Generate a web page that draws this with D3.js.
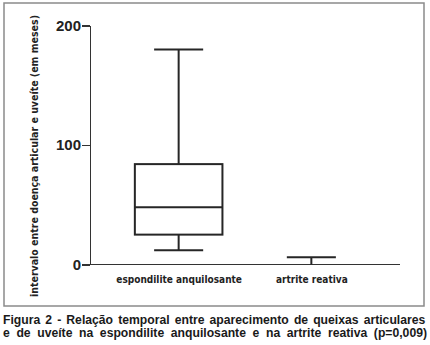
<!DOCTYPE html>
<meta charset="utf-8">
<style type="text/css">
	body {
		margin: 0;
		background: #fff;
	}

	.frame {
		fill: none;
		stroke: #8a8a8a;
		stroke-width: 1.5px;
	}

	.axis path,
	.axis line {
		stroke: #333;
		stroke-width: 1.5px;
		shape-rendering: crispEdges;
	}

	.y.axis text {
		font-family: "Liberation Sans", Arial, sans-serif;
		font-size: 15px;
		font-weight: bold;
		fill: #222;
	}

	.x.axis text {
		font-family: "Liberation Sans Narrow", "DejaVu Sans Condensed", sans-serif;
		font-size: 10px;
		font-weight: bold;
		fill: #222;
	}

	.box rect,
	.box line {
		fill: none;
		stroke: #262626;
		stroke-width: 2px;
	}

	.y-title {
		font-family: "Liberation Sans Narrow", "DejaVu Sans Condensed", sans-serif;
		font-size: 10.5px;
		font-weight: bold;
		fill: #222;
	}

	.caption {
		font-family: "Liberation Sans", Arial, sans-serif;
		font-size: 12.2px;
		font-weight: bold;
		fill: #1a1a1a;
	}
</style>

<body>
<div class="g-chart"></div>
</body>

<script src="https://d3js.org/d3.v7.min.js"></script>

<script>
  //Data (months)
  var categories = ["espondilite anquilosante", "artrite reativa"];
  var mins = [12, 0];
  var q1s = [25, 0];
  var medians = [48, 0];
  var q3s = [84, 0];
  var maxs = [180, 6];
  var yTicks = [0, 100, 200];

  var yTitle = "intervalo entre doença articular e uveíte (em meses)";
  var captionLines = [
    "Figura 2 -  Relação temporal entre aparecimento de queixas articulares",
    "e de uveíte na espondilite anquilosante e na artrite reativa (p=0,009)"
  ];

  var width = 430, height = 345;

  var svg = d3.select(".g-chart").append("svg")
    .attr("width", width)
    .attr("height", height);

  //Frame round the plot
  svg.append("rect")
    .attr("class", "frame")
    .attr("x", 4)
    .attr("y", 3)
    .attr("width", 420)
    .attr("height", 303);

  //Scales
  var xScale = d3.scalePoint()
    .domain(categories)
    .range([90, 400])
    .padding(0.668);

  var yScale = d3.scaleLinear()
    .domain([0, 200])
    .range([264.5, 25.5]);

  var boxW = xScale.step() * 0.66;
  var capW = boxW * 0.56;

  //Axes
  var yAxis = d3.axisLeft(yScale)
    .tickValues(yTicks)
    .tickSize(8)
    .tickSizeOuter(0)
    .tickPadding(1)
    .tickFormat(d3.format("d"));

  svg.append("g")
    .attr("class", "y axis")
    .attr("transform", "translate(90,0)")
    .call(yAxis);

  var xAxis = d3.axisBottom(xScale)
    .tickSize(0)
    .tickSizeOuter(0)
    .tickPadding(11);

  var xg = svg.append("g")
    .attr("class", "x axis")
    .attr("transform", "translate(0," + yScale(0) + ")")
    .call(xAxis);
  xg.select(".domain").attr("d", "M90,0H400");

  //Boxes
  var data = categories.map(function(c, i) {
    return { cat: c, min: mins[i], q1: q1s[i], med: medians[i], q3: q3s[i], max: maxs[i] };
  });

  var boxes = svg.selectAll("g.box")
    .data(data)
    .enter()
    .append("g")
    .attr("class", "box");

  boxes.append("line")
    .attr("x1", function(d) { return xScale(d.cat); })
    .attr("x2", function(d) { return xScale(d.cat); })
    .attr("y1", function(d) { return yScale(d.q3); })
    .attr("y2", function(d) { return yScale(d.max); });

  boxes.append("line")
    .attr("x1", function(d) { return xScale(d.cat); })
    .attr("x2", function(d) { return xScale(d.cat); })
    .attr("y1", function(d) { return yScale(d.q1); })
    .attr("y2", function(d) { return yScale(d.min); });

  boxes.filter(function(d) { return d.q3 > d.q1; })
    .append("rect")
    .attr("x", function(d) { return xScale(d.cat) - boxW / 2; })
    .attr("width", boxW)
    .attr("y", function(d) { return yScale(d.q3); })
    .attr("height", function(d) { return yScale(d.q1) - yScale(d.q3); });

  boxes.filter(function(d) { return d.q3 > d.q1; })
    .append("line")
    .attr("x1", function(d) { return xScale(d.cat) - boxW / 2; })
    .attr("x2", function(d) { return xScale(d.cat) + boxW / 2; })
    .attr("y1", function(d) { return yScale(d.med); })
    .attr("y2", function(d) { return yScale(d.med); });

  //whisker caps
  ["max", "min"].forEach(function(k) {
    boxes.filter(function(d) { return d[k] > 0; })
      .append("line")
      .attr("x1", function(d) { return xScale(d.cat) - capW / 2; })
      .attr("x2", function(d) { return xScale(d.cat) + capW / 2; })
      .attr("y1", function(d) { return yScale(d[k]); })
      .attr("y2", function(d) { return yScale(d[k]); });
  });

  //Y title
  svg.append("text")
    .attr("class", "y-title")
    .attr("transform", "translate(38,156) rotate(-90)")
    .attr("text-anchor", "middle")
    .text(yTitle);

  //Caption, justified to the full width
  captionLines.forEach(function(line, i) {
    var t = svg.append("text")
      .attr("class", "caption")
      .attr("x", 3)
      .attr("y", 324 + i * 13)
      .text(line);
    var natural = t.node().getComputedTextLength();
    var gaps = line.split(" ").length - 1;
    var extra = (424 - natural) / gaps;
    t.style("word-spacing", extra + "px");
  });
</script>
